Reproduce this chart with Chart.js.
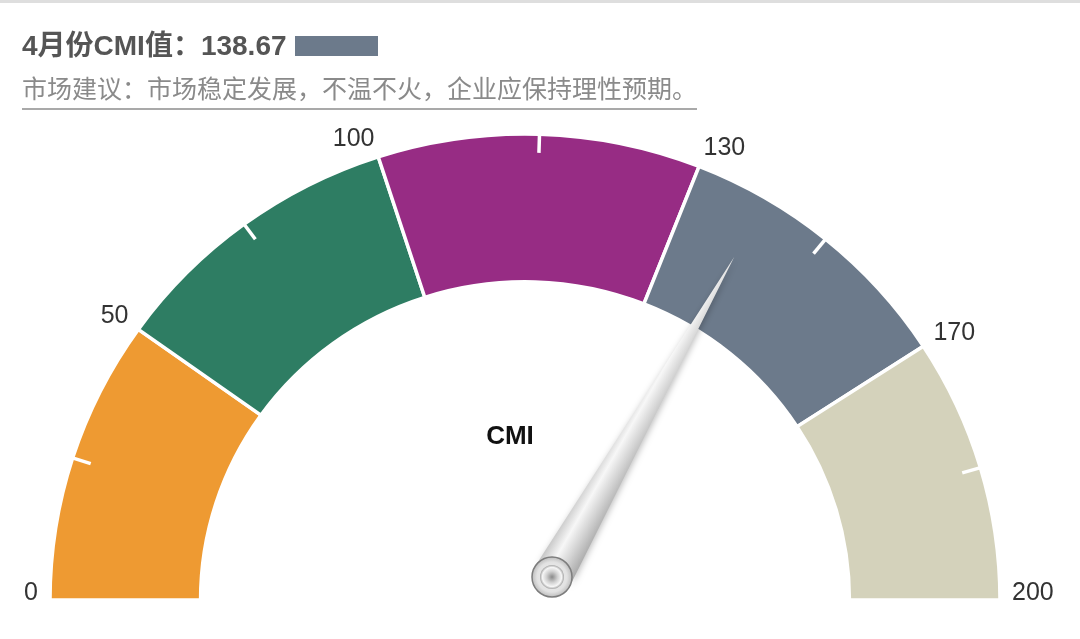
<!DOCTYPE html>
<html>
<head>
<meta charset="utf-8">
<script src="https://cdn.jsdelivr.net/npm/chart.js@4.4.0/dist/chart.umd.min.js"></script>
<style>
body { margin: 0; background: #fff; }
#wrap { position: relative; width: 1080px; height: 639px; overflow: hidden; }
#topline { position: absolute; left: 0; top: 0; width: 1080px; height: 3px; background: #dedede; }
#title { position: absolute; left: 22px; top: 31px; font: bold 28px "Liberation Sans", "Noto Sans CJK SC", sans-serif; color: #555; line-height: 30px; white-space: nowrap; }
#title i { display: inline-block; width: 83px; height: 20px; background: #6c7a8b; margin-left: 8px; vertical-align: -1px; }
#sub { position: absolute; left: 22px; top: 72px; font: 25px "Noto Sans CJK SC", sans-serif; color: #8a8a8a; line-height: 30px; padding-bottom: 6px; border-bottom: 2px solid #a9a9a9; white-space: nowrap; }
canvas { position: absolute; left: 0; top: 0; }
</style>
</head>
<body>
<div id="wrap">
  <div id="topline"></div>
  <canvas id="gauge" width="1080" height="639"></canvas>
  <div id="title"></div>
  <div id="sub"></div>
</div>
<script>
var monthName = '4月份';
var cmiValue = 138.67;
var advice = '市场建议：市场稳定发展，不温不火，企业应保持理性预期。';

// band edges shown round the dial
var bandEdges = [0, 50, 100, 130, 170, 200];
// degrees of the half dial each band takes (the dial is not linear)
var bandSpans = [35.5, 36.5, 39.5, 35.5, 33];
var bandColors = ['#ee9a32', '#2e7d63', '#972c84', '#6c7a8b', '#d4d2bb'];

document.getElementById('title').innerHTML = monthName + 'CMI值：' + cmiValue.toFixed(2) + '<i></i>';
document.getElementById('sub').textContent = advice;

var squash = 0.981; // the dial is a touch flatter than a circle

var gaugePlugin = {
  id: 'gauge',
  beforeDatasetsDraw: function(chart) {
    var arc = chart.getDatasetMeta(0).data[0];
    var ctx = chart.ctx;
    ctx.save();
    ctx.translate(arc.x, arc.y);
    ctx.scale(1, squash);
    ctx.translate(-arc.x, -arc.y);
  },
  afterDatasetsDraw: function(chart) {
    var ctx = chart.ctx;
    var arcs = chart.getDatasetMeta(0).data;
    // small white ticks in the middle of each band
    ctx.strokeStyle = '#fff';
    ctx.lineWidth = 3.5;
    arcs.forEach(function(el) {
      var a = (el.startAngle + el.endAngle) / 2;
      var r = el.outerRadius;
      ctx.beginPath();
      ctx.moveTo(el.x + Math.cos(a) * (r + 1), el.y + Math.sin(a) * (r + 1));
      ctx.lineTo(el.x + Math.cos(a) * (r - 19), el.y + Math.sin(a) * (r - 19));
      ctx.stroke();
    });
    ctx.restore();
  },
  afterDraw: function(chart) {
    var ctx = chart.ctx;
    var arcs = chart.getDatasetMeta(0).data;
    var cx = arcs[0].x, cy = arcs[0].y, R = arcs[0].outerRadius;

    // edge labels
    ctx.save();
    ctx.font = '25px "Liberation Sans", sans-serif';
    ctx.fillStyle = '#333';
    ctx.textBaseline = 'alphabetic';
    bandEdges.forEach(function(v, i) {
      var a = i < arcs.length ? arcs[i].startAngle : arcs[arcs.length - 1].endAngle;
      var x = cx + Math.cos(a) * (R + 12);
      var y = cy + Math.sin(a) * (R + 12) * squash;
      ctx.textAlign = Math.cos(a) < 0 ? 'right' : 'left';
      ctx.fillText(String(v), x, y);
    });

    ctx.font = 'bold 26px "Liberation Sans", sans-serif';
    ctx.fillStyle = '#111';
    ctx.textAlign = 'center';
    ctx.textBaseline = 'middle';
    ctx.fillText('CMI', cx - 15, cy - 163);
    ctx.restore();

    // needle angle: interpolate inside the band the value falls in
    var k = 0;
    while (k < bandEdges.length - 2 && cmiValue > bandEdges[k + 1]) k++;
    var f = (cmiValue - bandEdges[k]) / (bandEdges[k + 1] - bandEdges[k]);
    var ang = arcs[k].startAngle + f * (arcs[k].endAngle - arcs[k].startAngle);

    var px = cx + 27, py = cy - 23;
    var dx = Math.cos(ang), dy = Math.sin(ang) * squash;
    var d = Math.sqrt(dx * dx + dy * dy);
    var ux = dx / d, uy = dy / d;
    var len = R * 0.775;
    var hw = 20;
    var tx = px + ux * len, ty = py + uy * len;
    var nx = -uy, ny = ux;

    ctx.save();
    var g = ctx.createLinearGradient(px + nx * hw, py + ny * hw, px - nx * hw, py - ny * hw);
    g.addColorStop(0, '#a9a9a9');
    g.addColorStop(0.35, '#d4d4d4');
    g.addColorStop(0.65, '#f7f7f7');
    g.addColorStop(1, '#c4c4c4');
    ctx.shadowColor = 'rgba(0,0,0,0.25)';
    ctx.shadowBlur = 6;
    ctx.shadowOffsetX = 1;
    ctx.shadowOffsetY = 2;
    ctx.fillStyle = g;
    ctx.beginPath();
    ctx.moveTo(px + nx * hw, py + ny * hw);
    ctx.lineTo(tx, ty);
    ctx.lineTo(px - nx * hw, py - ny * hw);
    ctx.arc(px, py, hw, Math.atan2(-ny, -nx), Math.atan2(ny, nx), false);
    ctx.closePath();
    ctx.fill();
    ctx.restore();

    // cap
    ctx.save();
    var cg = ctx.createRadialGradient(px, py, 0, px, py, hw);
    cg.addColorStop(0, '#f4f4f4');
    cg.addColorStop(0.75, '#e2e2e2');
    cg.addColorStop(1, '#bdbdbd');
    ctx.fillStyle = cg;
    ctx.beginPath();
    ctx.arc(px, py, hw, 0, Math.PI * 2);
    ctx.fill();
    ctx.lineWidth = 1.5;
    ctx.strokeStyle = '#7d7d7d';
    ctx.stroke();
    var ig = ctx.createRadialGradient(px, py, 0, px, py, 12);
    ig.addColorStop(0, '#8a8a8a');
    ig.addColorStop(0.45, '#cfcfcf');
    ig.addColorStop(0.8, '#f6f6f6');
    ig.addColorStop(1, '#a6a6a6');
    ctx.fillStyle = ig;
    ctx.beginPath();
    ctx.arc(px, py, 12, 0, Math.PI * 2);
    ctx.fill();
    ctx.restore();
  }
};

var gauge = new Chart(document.getElementById('gauge'), {
  type: 'doughnut',
  data: {
    labels: bandEdges.slice(0, -1).map(function(v, i) { return v + '-' + bandEdges[i + 1]; }),
    datasets: [{
      data: bandSpans,
      backgroundColor: bandColors,
      borderColor: '#fff',
      borderWidth: 3.5,
      clip: false
    }]
  },
  options: {
    responsive: false,
    animation: false,
    events: [],
    rotation: -90,
    circumference: 180,
    radius: 475,
    cutout: '68.3%',
    layout: { padding: { left: 52, right: 82, top: 126, bottom: 40 } },
    plugins: {
      legend: { display: false },
      tooltip: { enabled: false },
      title: { display: false }
    }
  },
  plugins: [gaugePlugin]
});
</script>
</body>
</html>
